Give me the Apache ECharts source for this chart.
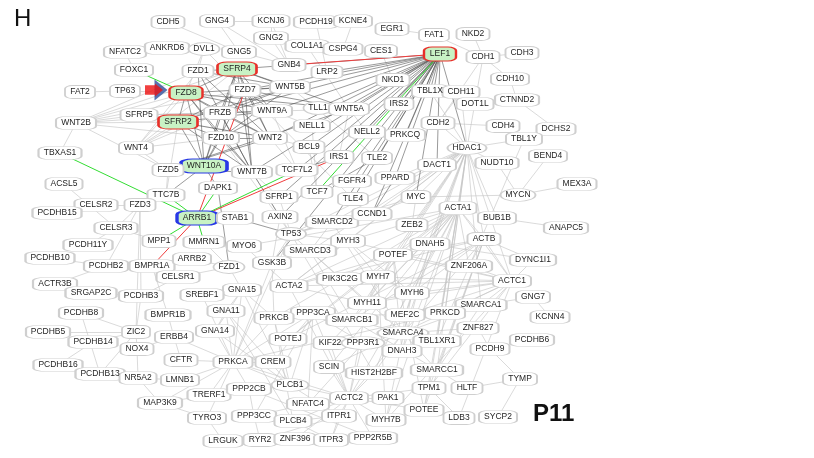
<!DOCTYPE html>
<html>
<head>
<meta charset="utf-8">
<script src="https://cdn.jsdelivr.net/npm/echarts@6/dist/echarts.min.js"></script>
<style>
  html, body { margin: 0; padding: 0; background: #fff; }
  #chart { width: 814px; height: 458px; }
</style>
</head>
<body>
<div id="chart"></div>
<script>
// node name, x, y (layout units of the network picture)
const nodes = [
  ['CDH5', 168, 22], ['GNG4', 217, 21], ['KCNJ6', 271, 21], ['PCDH19', 316, 22], ['KCNE4', 353, 21],
  ['EGR1', 392, 29], ['FAT1', 434, 35], ['NKD2', 473, 34],
  ['GNG2', 271, 38], ['NFATC2', 125, 52], ['ANKRD6', 167, 48], ['DVL1', 204, 49], ['GNG5', 239, 52],
  ['COL1A1', 307, 46], ['CSPG4', 343, 49], ['CES1', 381, 51], ['LEF1', 440, 54], ['CDH1', 483, 57], ['CDH3', 522, 53],
  ['FOXC1', 134, 70], ['FZD1', 198, 71], ['SFRP4', 237, 69], ['GNB4', 289, 65], ['LRP2', 327, 72], ['CDH10', 510, 79],
  ['FAT2', 80, 92], ['TP63', 125, 91], ['FZD8', 186, 93], ['FZD7', 245, 90], ['WNT5B', 290, 87],
  ['NKD1', 393, 80], ['TBL1X', 430, 91], ['CDH11', 461, 92], ['CTNND2', 517, 100],
  ['SFRP5', 139, 115], ['FRZB', 220, 113], ['WNT9A', 272, 111], ['TLL1', 318, 108], ['WNT5A', 349, 109],
  ['IRS2', 399, 104], ['DOT1L', 475, 104],
  ['WNT2B', 76, 123], ['SFRP2', 178, 122], ['NELL1', 312, 126], ['CDH2', 438, 123], ['CDH4', 503, 126], ['DCHS2', 556, 129],
  ['FZD10', 221, 138], ['WNT2', 270, 138], ['NELL2', 367, 132], ['PRKCQ', 405, 135], ['TBL1Y', 524, 139],
  ['WNT4', 136, 148], ['BCL9', 309, 147], ['HDAC1', 467, 148], ['BEND4', 548, 156], ['NUDT10', 497, 163],
  ['TBXAS1', 60, 153], ['WNT10A', 204, 166], ['FZD5', 168, 170], ['WNT7B', 252, 172], ['IRS1', 339, 157],
  ['TLE2', 377, 158], ['DACT1', 437, 165], ['TCF7L2', 297, 170], ['FGFR4', 352, 181], ['PPARD', 395, 178],
  ['MYCN', 518, 195], ['MEX3A', 577, 184],
  ['ACSL5', 64, 184], ['DAPK1', 218, 188], ['TTC7B', 166, 195], ['SFRP1', 279, 197], ['TCF7', 317, 192],
  ['TLE4', 353, 199], ['MYC', 416, 197], ['ACTA1', 458, 208],
  ['CELSR2', 96, 205], ['FZD3', 140, 205], ['PCDHB15', 57, 213], ['ARRB1', 197, 218], ['STAB1', 235, 218],
  ['AXIN2', 280, 217], ['SMARCD2', 332, 222], ['CCND1', 372, 214], ['ZEB2', 412, 225], ['BUB1B', 497, 218], ['ANAPC5', 566, 228],
  ['CELSR3', 116, 228], ['TP53', 291, 234], ['DNAH5', 430, 244], ['ACTB', 484, 239],
  ['PCDH11Y', 88, 245], ['MPP1', 159, 241], ['MMRN1', 204, 242], ['MYO6', 244, 246], ['MYH3', 348, 241],
  ['SMARCD3', 310, 251], ['POTEF', 393, 255], ['ZNF206A', 469, 266], ['DYNC1I1', 533, 260],
  ['PCDHB10', 50, 258], ['PCDHB2', 106, 266], ['BMPR1A', 152, 266], ['ARRB2', 192, 259], ['FZD1#2', 229, 267],
  ['GSK3B', 272, 263], ['PIK3C2G', 340, 279], ['MYH7', 378, 277], ['ACTC1', 512, 281],
  ['ACTR3B', 55, 284], ['CELSR1', 178, 277], ['GNA15', 242, 290], ['ACTA2', 289, 286], ['MYH6', 412, 293], ['GNG7', 533, 297],
  ['SRGAP2C', 91, 293], ['PCDHB3', 141, 296], ['SREBF1', 202, 295], ['PPP3CA', 313, 313], ['MYH11', 367, 303], ['SMARCA1', 481, 305],
  ['PRKCB', 274, 318], ['GNA11', 226, 311], ['BMPR1B', 168, 315], ['PCDHB8', 81, 313], ['SMARCB1', 352, 320],
  ['MEF2C', 405, 315], ['PRKCD', 445, 313], ['KCNN4', 550, 317],
  ['PCDHB5', 48, 332], ['ZIC2', 136, 332], ['ERBB4', 174, 337], ['GNA14', 215, 331], ['POTEJ', 288, 339],
  ['KIF22', 330, 343], ['PPP3R1', 363, 343], ['SMARCA4', 403, 333], ['ZNF827', 478, 328], ['TBL1XR1', 437, 341], ['PCDHB6', 532, 340],
  ['PCDHB14', 93, 342], ['NOX4', 137, 349], ['DNAH3', 402, 351], ['PCDH9', 490, 349],
  ['CFTR', 181, 360], ['PRKCA', 233, 362], ['CREM', 273, 362], ['SCIN', 329, 367], ['HIST2H2BF', 374, 373], ['SMARCC1', 437, 370],
  ['PCDHB16', 58, 365], ['PCDHB13', 100, 374], ['NR5A2', 138, 378], ['LMNB1', 180, 380], ['PLCB1', 290, 385],
  ['TPM1', 429, 388], ['HLTF', 467, 388], ['TYMP', 520, 379],
  ['TRERF1', 209, 395], ['PPP2CB', 249, 389], ['NFATC4', 308, 404], ['ACTC2', 349, 398], ['PAK1', 388, 398], ['MAP3K9', 160, 403],
  ['POTEE', 424, 410], ['LDB3', 459, 418], ['SYCP2', 498, 417], ['TYRO3', 207, 418], ['PPP3CC', 254, 416],
  ['PLCB4', 293, 421], ['ITPR1', 339, 416], ['MYH7B', 386, 420],
  ['LRGUK', 223, 441], ['RYR2', 260, 440], ['ZNF396', 295, 439], ['ITPR3', 331, 440], ['PPP2R5B', 373, 438]
];

// node groups
const redHubs = ['FZD8', 'SFRP4', 'SFRP2', 'LEF1'];
const blueHubs = ['WNT10A', 'ARRB1'];
const ovalNodes = ['DVL1', 'TLL1', 'TP53', 'FZD1#2', 'HDAC1', 'MYCN', 'PLCB1', 'PPP3R1', 'SMARCA4'];

// edges
const redLinks = ['GNB4 LEF1', 'FZD7 ARRB1', 'ARRB1 BMPR1A', 'ARRB1 IRS1'];
const greenLinks = ['LEF1 TCF7', 'FOXC1 FZD8', 'TBXAS1 ARRB1', 'TTC7B ARRB1', 'ARRB1 DAPK1',
  'ARRB1 MPP1', 'ARRB1 MMRN1', 'ARRB1 STAB1', 'ARRB1 TCF7L2'];
const darkLinks = [
  'LEF1 WNT5B', 'LEF1 LRP2', 'LEF1 NKD1', 'LEF1 TLL1', 'LEF1 WNT5A', 'LEF1 WNT9A', 'LEF1 NELL1', 'LEF1 WNT2',
  'LEF1 BCL9', 'LEF1 IRS2', 'LEF1 NELL2', 'LEF1 PRKCQ', 'LEF1 HDAC1', 'LEF1 TBL1X', 'LEF1 FZD7', 'LEF1 SFRP4',
  'LEF1 FRZB', 'LEF1 WNT7B', 'LEF1 TCF7L2', 'LEF1 IRS1', 'LEF1 TLE2', 'LEF1 FGFR4', 'LEF1 CCND1', 'LEF1 MYC',
  'LEF1 SMARCD2', 'LEF1 GSK3B', 'LEF1 AXIN2', 'LEF1 SFRP1', 'LEF1 DACT1', 'LEF1 PPARD', 'LEF1 TLE4',
  'SFRP4 FZD7', 'SFRP4 WNT5B', 'SFRP4 WNT9A', 'SFRP4 WNT2', 'SFRP4 FRZB', 'SFRP4 FZD10', 'SFRP4 WNT10A',
  'SFRP4 WNT7B', 'SFRP4 WNT5A', 'SFRP4 FZD8', 'SFRP4 FZD1',
  'FZD8 WNT5B', 'FZD8 WNT9A', 'FZD8 WNT2', 'FZD8 WNT10A', 'FZD8 WNT7B', 'FZD8 FZD10', 'FZD8 SFRP2', 'FZD8 FRZB', 'FZD8 WNT5A',
  'SFRP2 FZD7', 'SFRP2 WNT5B', 'SFRP2 WNT9A', 'SFRP2 WNT2', 'SFRP2 WNT10A', 'SFRP2 WNT7B', 'SFRP2 FZD10',
  'FZD7 WNT5B', 'FZD7 WNT9A', 'FZD7 WNT2', 'FZD7 WNT7B', 'FZD7 WNT5A', 'FZD7 WNT10A',
  'FZD10 WNT5B', 'FZD10 WNT9A', 'FZD10 WNT2', 'FZD10 WNT7B', 'FZD10 WNT10A',
  'FRZB WNT5B', 'FRZB WNT9A', 'FRZB WNT2', 'FRZB WNT7B', 'FRZB WNT10A',
  'FZD1 WNT5B', 'FZD1 WNT2', 'FZD1 WNT7B', 'FZD1 WNT10A',
  'FZD5 WNT5A', 'FZD5 WNT7B', 'FZD5 WNT10A', 'FZD5 WNT2',
  'WNT10A DAPK1', 'WNT10A TTC7B', 'WNT7B AXIN2', 'STAB1 TP53', 'DAPK1 FZD1#2', 'PPARD CCND1', 'TLE2 TCF7', 'IRS1 TCF7L2'
];
const greyLinks = [
  // wnt ligands and receptors
  'WNT2B FZD8', 'WNT2B FZD7', 'WNT2B SFRP4', 'WNT2B FZD10', 'WNT2B FZD5', 'WNT2B FRZB', 'WNT2B SFRP2', 'WNT2B FZD1', 'WNT2B SFRP5',
  'WNT4 FZD8', 'WNT4 FZD7', 'WNT4 SFRP4', 'WNT4 FZD10', 'WNT4 FZD1', 'WNT4 SFRP2', 'WNT4 FRZB', 'WNT4 FZD5',
  'SFRP5 FZD8', 'SFRP5 WNT9A', 'SFRP5 WNT2', 'SFRP5 WNT5A', 'FAT2 TP63', 'TP63 FZD8', 'NFATC2 FOXC1', 'ANKRD6 DVL1',
  'DVL1 FZD1', 'DVL1 FZD7', 'DVL1 FZD8', 'CDH5 GNG5', 'GNG4 GNG5', 'GNG4 KCNJ6', 'GNG2 KCNJ6', 'GNG2 GNB4', 'GNG5 GNB4',
  'GNG4 GNB4', 'KCNJ6 GNB4', 'PCDH19 LRP2', 'KCNE4 CSPG4', 'COL1A1 WNT5A', 'CES1 NKD1', 'EGR1 FAT1', 'FAT1 CDH1',
  'NKD2 CDH1', 'CDH1 CDH3', 'CDH1 CDH2', 'CDH1 CDH10', 'CDH1 HDAC1', 'CDH10 CTNND2', 'CTNND2 DCHS2', 'DOT1L CTNND2',
  'CDH11 CDH2', 'CDH11 DOT1L', 'CDH4 TBL1Y', 'CDH4 CDH2', 'TBL1X HDAC1', 'TBL1Y HDAC1', 'NUDT10 HDAC1', 'BEND4 MYCN',
  'WNT9A NELL1', 'WNT5A NELL2', 'WNT2 BCL9', 'WNT7B SFRP1', 'WNT7B TP53', 'WNT5A IRS1', 'NELL1 TCF7', 'BCL9 TCF7',
  'WNT9A TCF7L2', 'WNT2 TCF7L2', 'WNT5B TLE2', 'FZD7 TLE4', 'SFRP2 TTC7B', 'FZD10 TP53',
  // hdac and chromatin
  'HDAC1 DACT1', 'HDAC1 MYC', 'HDAC1 ZEB2', 'HDAC1 ACTA1', 'HDAC1 SMARCA4', 'HDAC1 SMARCB1', 'HDAC1 SMARCC1',
  'HDAC1 SMARCD2', 'HDAC1 SMARCD3', 'HDAC1 MEF2C', 'HDAC1 TBL1XR1', 'HDAC1 CCND1', 'HDAC1 TP53', 'HDAC1 PPARD',
  'HDAC1 HIST2H2BF', 'HDAC1 POTEF', 'HDAC1 DNAH5', 'HDAC1 MYH3', 'HDAC1 MYH11', 'HDAC1 ACTA2', 'HDAC1 PRKCD',
  'HDAC1 SMARCA1', 'HDAC1 BUB1B', 'HDAC1 CDH2', 'HDAC1 CDH11', 'HDAC1 ACTC1', 'HDAC1 ACTB',
  'SMARCA4 SMARCB1', 'SMARCA4 SMARCC1', 'SMARCA4 SMARCD3', 'SMARCA4 SMARCD2', 'SMARCA4 SMARCA1', 'SMARCB1 SMARCD3',
  'SMARCB1 SMARCC1', 'SMARCA1 SMARCC1', 'SMARCA4 HIST2H2BF', 'SMARCA4 MEF2C', 'SMARCC1 HLTF', 'SMARCD2 SMARCD3',
  'TBL1XR1 TBL1Y', 'SMARCA1 GNG7', 'GNG7 KCNN4', 'PRKCD SMARCA1', 'MEF2C PRKCD', 'MEF2C MYH6',
  // actin and myosin
  'ACTA1 ACTB', 'ACTA1 ACTC1', 'ACTA1 ACTA2', 'ACTA1 MYH3', 'ACTA1 MYH6', 'ACTA1 MYH7', 'ACTA1 MYH11', 'ACTA1 POTEF',
  'ACTA1 POTEJ', 'ACTA1 POTEE', 'ACTA1 DNAH5', 'ACTA1 DNAH3', 'ACTA1 MYH7B', 'ACTA1 PIK3C2G', 'ACTA1 TPM1',
  'ACTA1 ZNF206A', 'ACTA1 SCIN', 'ACTA1 KIF22', 'ACTA1 ACTC2', 'ACTA1 MYO6', 'ACTA1 BUB1B',
  'ACTB ACTC1', 'ACTB ACTA2', 'ACTB MYH6', 'ACTB POTEF', 'ACTB POTEE', 'ACTB POTEJ', 'ACTB ZNF206A', 'ACTB DYNC1I1',
  'ACTB SMARCA4', 'ACTB SMARCB1', 'ACTB SMARCC1', 'ACTB TPM1',
  'ACTC1 ACTA2', 'ACTC1 MYH6', 'ACTC1 MYH7', 'ACTC1 MYH11', 'ACTC1 POTEF', 'ACTC1 TPM1', 'ACTC1 MEF2C', 'ACTC1 PRKCD',
  'ACTC1 SMARCA1', 'ACTC1 ZNF206A', 'ACTC1 LDB3', 'ACTC1 MYH7B', 'ACTC1 MYH3', 'ACTC1 DYNC1I1', 'ACTC1 SCIN',
  'MYH3 MYH6', 'MYH3 MYH7', 'MYH6 MYH7', 'MYH6 MYH11', 'MYH7 MYH11', 'MYH7B MYH6', 'MYH7B MYH7', 'MYH3 ACTA2',
  'MYH11 ACTA2', 'MYH11 POTEF', 'POTEF POTEJ', 'POTEF POTEE', 'POTEF ACTA2', 'POTEF DNAH5', 'DNAH3 DNAH5', 'DNAH3 POTEF',
  'DYNC1I1 DNAH5', 'MYO6 ACTA2', 'ZEB2 MYC', 'CCND1 MYC', 'MYC MYCN', 'MYCN MEX3A', 'MYCN NUDT10', 'BUB1B ANAPC5',
  'HLTF TYMP', 'TYMP SYCP2', 'TYMP PCDH9', 'LDB3 TPM1', 'POTEE TPM1', 'PCDH9 ZNF827', 'PCDH9 PCDHB6', 'ZNF827 SMARCA4',
  // signalling
  'PRKCA CFTR', 'PRKCA GNA14', 'PRKCA GNA11', 'PRKCA ERBB4', 'PRKCA PRKCB', 'PRKCA CREM', 'PRKCA PPP2CB', 'PRKCA TRERF1',
  'PRKCA MAP3K9', 'PRKCA PLCB1', 'PRKCA ACTC2', 'PRKCA PPP3CA', 'PRKCA GNA15', 'PRKCA TYRO3', 'PRKCA LMNB1', 'PRKCA SREBF1',
  'PRKCA PRKCD', 'PRKCA TP53', 'PRKCA GSK3B',
  'ACTC2 NFATC4', 'ACTC2 PLCB1', 'ACTC2 ITPR1', 'ACTC2 PAK1', 'ACTC2 MYH7B', 'ACTC2 HIST2H2BF', 'ACTC2 PPP3R1',
  'ACTC2 PPP3CA', 'ACTC2 TPM1', 'ACTC2 ZNF396', 'ACTC2 PLCB4', 'ACTC2 ITPR3', 'ACTC2 PPP2R5B', 'ACTC2 SCIN', 'ACTC2 KIF22',
  'ACTC2 POTEE', 'ACTC2 ACTA2', 'ACTC2 MYH11', 'ACTC2 SMARCA4',
  'PPP3CA PPP3R1', 'PPP3CA PPP3CC', 'PPP3CA NFATC4', 'PPP3CA CREM', 'PPP3CA PRKCB', 'PPP3CA PLCB1', 'PPP3R1 NFATC4',
  'PPP3CC NFATC4', 'PPP3CC PLCB4', 'PPP3CC RYR2', 'PPP3CC PPP2CB', 'PPP2CB PPP2R5B', 'TYRO3 LRGUK', 'MAP3K9 TYRO3',
  'ITPR1 ITPR3', 'ITPR1 PLCB1', 'ITPR1 PLCB4', 'RYR2 ITPR1', 'ITPR3 PLCB4',
  'GNA15 GNA11', 'GNA15 GNA14', 'GNA15 PLCB1', 'GNA11 PLCB4', 'GNA14 PLCB1', 'GNA15 PRKCB', 'GNA11 PLCB1', 'GNA11 GNA14',
  'PRKCB PLCB1', 'PRKCB PLCB4', 'PRKCB GSK3B', 'PRKCB PRKCD', 'PRKCB PIK3C2G', 'SREBF1 GNA15',
  'GSK3B SMARCD3', 'GSK3B TP53', 'GSK3B AXIN2', 'TP53 SMARCD3', 'TP53 SMARCD2', 'TP53 MYC', 'TP53 CCND1', 'TP53 SFRP1',
  'TP53 HIST2H2BF', 'TP53 MYH3', 'SMARCD3 MYH11',
  // cadherins and misc
  'ZIC2 PCDHB8', 'ZIC2 PCDHB5', 'ZIC2 PCDHB14', 'ZIC2 PCDHB3', 'ZIC2 NOX4', 'ZIC2 PCDHB13', 'PCDHB8 PCDHB13',
  'PCDHB14 PCDHB16', 'FZD3 CELSR2', 'FZD3 CELSR3', 'FZD3 ZIC2', 'FZD3 TTC7B', 'FZD3 PCDHB2', 'FZD3 PCDHB3',
  'CELSR2 PCDHB15', 'CELSR3 PCDH11Y', 'PCDHB10 PCDHB2', 'ACTR3B PCDHB2', 'SRGAP2C PCDHB3', 'SRGAP2C ACTR3B',
  'CELSR3 MPP1', 'ACSL5 CELSR3', 'NR5A2 NOX4', 'NOX4 ERBB4', 'NR5A2 PCDHB13', 'BMPR1B BMPR1A', 'BMPR1B ERBB4',
  'CELSR1 FZD1#2', 'CELSR1 PCDHB3', 'ARRB2 FZD1#2', 'ARRB2 BMPR1A', 'MMRN1 FZD1#2', 'FZD1#2 GNA15', 'CFTR ERBB4',
  'LMNB1 NR5A2', 'MAP3K9 TRERF1', 'MAP3K9 NR5A2', 'TBXAS1 WNT2B', 'TTC7B FZD5'
];

const W = 814, H = 458;

// box width follows the label
const ctx = document.createElement('canvas').getContext('2d');
ctx.font = '8.5px "Liberation Sans"';
const label = (n) => n.replace('#2', '');
const boxW = (n) => Math.round(ctx.measureText(label(n)).width + 10);

const nodeData = nodes.map(([name, x, y]) => {
  const red = redHubs.includes(name);
  const blue = blueHubs.includes(name);
  return {
    name: name,
    value: [x, y],
    symbol: ovalNodes.includes(name) ? 'circle' : 'roundRect',
    symbolSize: [boxW(name) + (red || blue ? 2 : 0), red || blue ? 14 : 13],
    itemStyle: {
      color: red || blue ? '#c8f2c4' : '#ffffff',
      borderColor: red ? '#e8302a' : blue ? '#2838e6' : '#cfcfcf',
      borderWidth: red ? 1.6 : blue ? 2 : 1.2
    }
  };
});

const mkLinks = (list, style) => list.map((s) => {
  const [a, b] = s.split(' ');
  return { source: a, target: b, lineStyle: style };
});

const links = [].concat(
  mkLinks(greyLinks, { color: '#c4c4c4', width: 0.7, opacity: 0.9 }),
  mkLinks(darkLinks, { color: '#4a4a4a', width: 0.7, opacity: 0.8 }),
  mkLinks(redLinks, { color: '#f03c3c', width: 1, opacity: 1 }),
  mkLinks(greenLinks, { color: '#33dd33', width: 1, opacity: 1 })
);

// arrow pointing at FZD8
const fzd8 = nodes.find((n) => n[0] === 'FZD8');

const chart = echarts.init(document.getElementById('chart'), null, { renderer: 'canvas' });
chart.setOption({
  animation: false,
  backgroundColor: '#ffffff',
  grid: { left: 0, right: 0, top: 0, bottom: 0 },
  xAxis: { type: 'value', min: 0, max: W, show: false },
  yAxis: { type: 'value', min: 0, max: H, inverse: true, show: false },
  graphic: [
    { type: 'text', left: 14, top: 7, style: { text: 'H', font: '24px "Liberation Sans"', fill: '#111' } },
    { type: 'text', left: 533, top: 402, style: { text: 'P11', font: 'bold 24px "Liberation Sans"', fill: '#111' } }
  ],
  series: [
    {
      type: 'graph',
      coordinateSystem: 'cartesian2d',
      layout: 'none',
      roam: false,
      data: nodeData,
      links: links,
      label: {
        show: true,
        position: 'inside',
        formatter: (p) => label(p.name),
        fontSize: 8.5,
        fontFamily: 'Liberation Sans',
        color: '#1e1e1e'
      },
      emphasis: { disabled: true },
      z: 2
    },
    {
      type: 'scatter',
      silent: true,
      symbol: 'path://M0,0 L12,10 L0,20 Z',
      symbolSize: [13, 21],
      itemStyle: { color: '#2f4e9c' },
      data: [[fzd8[1] - 25, fzd8[2] - 3]],
      z: 5
    },
    {
      type: 'scatter',
      silent: true,
      symbol: 'path://M0,2 L10,2 L10,0 L18,7 L10,14 L10,12 L0,12 Z',
      symbolSize: [18, 13],
      itemStyle: { color: '#ee1010' },
      data: [[fzd8[1] - 32, fzd8[2] - 3]],
      z: 6
    }
  ]
});
</script>
</body>
</html>
